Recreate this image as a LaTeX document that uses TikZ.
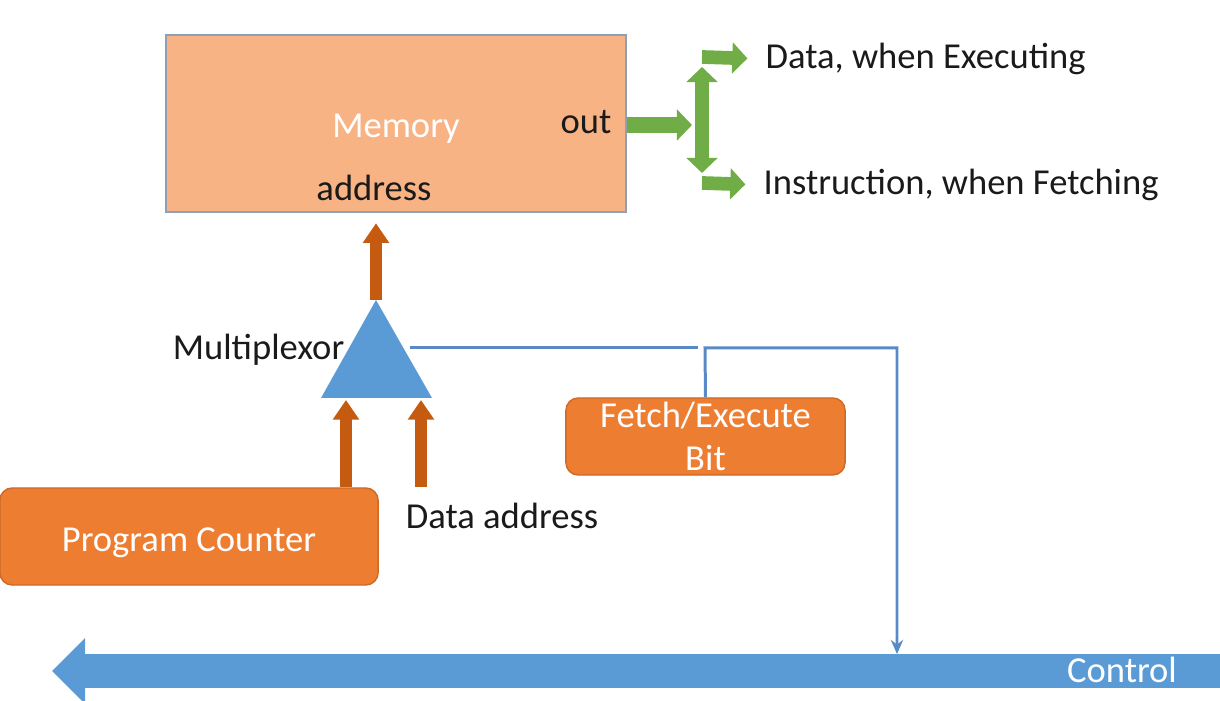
\documentclass[tikz,border=0pt]{standalone}
\usepackage{fontspec}
\setmainfont{Carlito}
\usetikzlibrary{arrows.meta,positioning}

\definecolor{memfill}{HTML}{F8B385}
\definecolor{memline}{HTML}{8E9FB8}
\definecolor{boxfill}{HTML}{ED7D31}
\definecolor{boxline}{HTML}{CF6A26}
\definecolor{busorange}{HTML}{C55A11}
\definecolor{muxblue}{HTML}{5B9BD5}
\definecolor{ctlblue}{HTML}{5A8AC6}
\definecolor{outgreen}{HTML}{70AD47}
\definecolor{inkblack}{HTML}{1A1A1A}

\newcommand\dropby[2]{\raisebox{-#1}[\height][\depth]{#2}}

\tikzset{
  lbl/.style={font=\fontsize{10.4}{12.4}\selectfont, inner sep=0pt, text=inkblack},
  wlbl/.style={lbl, text=white},
  membox/.style={rectangle, draw=memline, line width=0.4pt, fill=memfill, wlbl,
    minimum width=4.6cm, minimum height=1.77cm},
  unit/.style={rectangle, rounded corners=3.5pt, draw=boxline, line width=0.4pt,
    fill=boxfill, wlbl, align=center},
  bus/.style={busorange, line width=3.3pt, -{Triangle[length=5.6pt,width=7.2pt]}},
  gbus/.style={outgreen, line width=3.9pt, -{Triangle[length=4.3pt,width=8.7pt]}},
  ctl/.style={ctlblue, line width=0.85pt, -{Stealth[length=4pt,width=3.5pt]}},
}

\begin{document}
\begin{tikzpicture}[x=0.01cm,y=-0.01cm]
\useasboundingbox (0,0) rectangle (1220,701);

% memory and its outputs
\node[membox] (mem) at (396,123.5) {\dropby{0.055cm}{Memory}};
\node[lbl] (out) at (586,122) {out};
\node[lbl] (addr) at (374,188) {address};
\node[lbl, anchor=west] (data) at (765,59) {Data, when Executing};
\node[lbl, anchor=west] (instr) at (763,185) {Instruction, when Fetching};
\coordinate (split) at (702,125);
\coordinate (up) at (702,67);
\coordinate (down) at (702,173);
\draw[gbus, line width=4.8pt] (mem.east |- split) -- (692,125);
\draw[gbus] (split) -- (up);
\draw[gbus] (split) -- (down);
\draw[gbus] (702,57) -- (data.west) [shorten >=5pt];
\draw[gbus] (702,183) -- (instr.west) [shorten >=5pt];

% multiplexor
\coordinate (muxtop) at (376,300);
\coordinate (muxl) at (321,398);
\coordinate (muxr) at (432,398);
\fill[muxblue] (muxtop) -- (muxr) -- (muxl) -- cycle;
\node[lbl, anchor=east] (muxlbl) at (345,350) {Multiplexor};
\draw[bus] (muxtop) -- (mem.south -| muxtop) [shorten >=3pt];

% inputs
\node[unit, minimum width=3.78cm, minimum height=0.97cm] (pc) at (189,536.5) {\dropby{0.065cm}{Program Counter}};
\node[lbl] (daddr) at (502,516) {Data address};
\coordinate (in1) at (346,400);
\coordinate (in2) at (421,400);
\foreach \c in {in1,in2}
  \draw[bus] (\c |- pc.north) -- (\c);

% fetch/execute bit and control
\node[unit, minimum width=2.79cm, minimum height=0.77cm] (fe) at (705.5,436.5) {Fetch/Execute\\Bit};
\coordinate (muxsel) at (410,348);
\coordinate (jn) at (705,348);
\coordinate (corner) at (897,348);
\coordinate (busR) at (1220,671);
\coordinate (busL) at (52,671);
\coordinate (tap) at (897,654);
\draw[ctlblue, line width=0.85pt] (muxsel) -- ([xshift=-0.07cm]jn);
\draw[ctl] (fe.north) -- (jn) -- (corner) -- (tap);
\draw[muxblue, line width=9.4pt, -{Triangle[length=9.4pt,width=18.2pt]}] (busR) -- (busL);
\node[wlbl] (ctllbl) at (1122,670) {Control};
\end{tikzpicture}
\end{document}
